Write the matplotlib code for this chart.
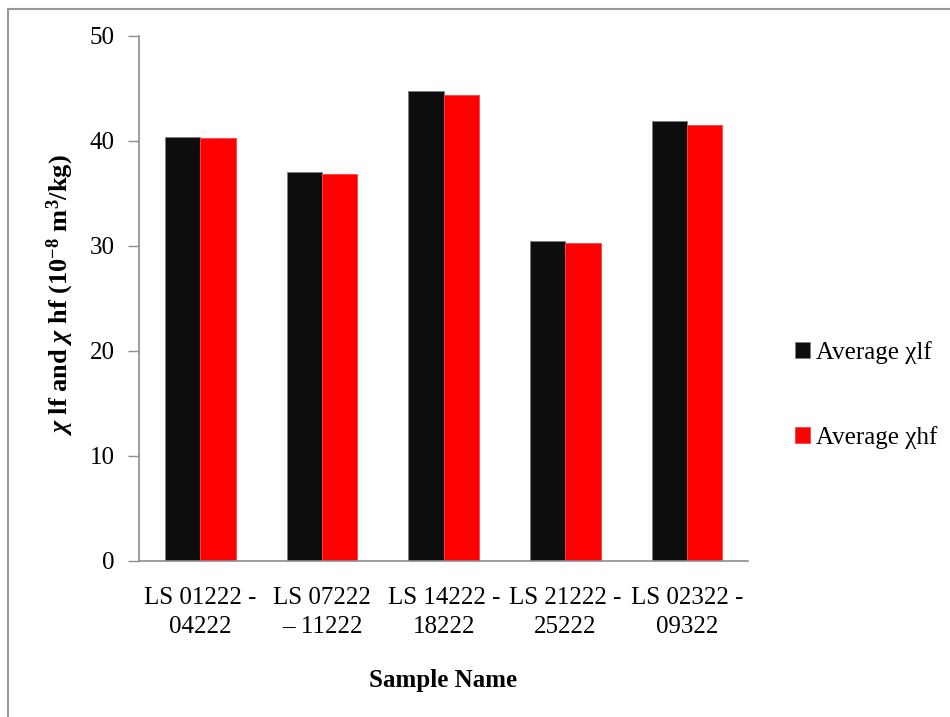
import numpy as np
import matplotlib
matplotlib.use("Agg")
import matplotlib.pyplot as plt
from matplotlib.lines import Line2D

# values
samples = ["LS 01222 -\n04222", "LS 07222\n\u2013 11222", "LS 14222 -\n18222",
           "LS 21222 -\n25222", "LS 02322 -\n09322"]
chi_lf = [40.4, 37.0, 44.7, 30.5, 41.9]
chi_hf = [40.3, 36.8, 44.4, 30.3, 41.5]
y_ticks = [0, 10, 20, 30, 40, 50]

plt.rcParams['font.family'] = 'Liberation Serif'
plt.rcParams['mathtext.fontset'] = 'custom'
plt.rcParams['mathtext.rm'] = 'Liberation Serif:bold'
plt.rcParams['mathtext.it'] = 'Liberation Serif:italic:bold'
plt.rcParams['mathtext.bf'] = 'Liberation Serif:bold'

fig = plt.figure(figsize=(9.5, 7.17), dpi=100)
ax = fig.add_axes([0.1468, 0.2176, 0.6406, 0.7326])

x = np.arange(len(samples))
w = 0.29
ax.bar(x - w / 2, chi_lf, w, color='#0d0d0d', edgecolor='#7f7f7f', linewidth=0.6,
       label='Average \u03c7lf')
ax.bar(x + w / 2, chi_hf, w, color='#ff0000', edgecolor='#ff4040', linewidth=0.6,
       label='Average \u03c7hf')

ax.set_xlim(-0.5, len(samples) - 0.5)
ax.set_ylim(0, 50)
ax.set_yticks(y_ticks)
ax.set_xticks(x)
ax.set_xticklabels(samples, fontsize=18, linespacing=1.4)
ax.tick_params(axis='y', labelsize=18, length=8, width=1, color='#8c8c8c', pad=10)
ax.tick_params(axis='x', length=0, pad=19)

for s in ['top', 'right']:
    ax.spines[s].set_visible(False)
for s in ['left', 'bottom']:
    ax.spines[s].set_color('#8c8c8c')
    ax.spines[s].set_linewidth(1.2)

fig.text(60 / 950, 1 - 295 / 717, r"$\chi$ lf and $\chi$ hf (10$^{-8}$ m$^{3}$/kg)",
         rotation=90, ha='center', va='center', fontsize=19, fontweight='bold')
fig.text(443 / 950, 1 - 680 / 717, "Sample Name", ha='center', va='center',
         fontsize=18, fontweight='bold')

leg = fig.legend(loc='center left', bbox_to_anchor=(772 / 950, 1 - 395 / 717),
                 frameon=False, fontsize=18, handlelength=0.6, handleheight=0.6,
                 handletextpad=0.25, labelspacing=2.5)

# chart border like the spreadsheet frame
fig.add_artist(Line2D([8 / 950, 8 / 950], [0, 1 - 9 / 717], transform=fig.transFigure,
                      color='#9a9a9a', linewidth=1.5))
fig.add_artist(Line2D([8 / 950, 1], [1 - 9 / 717, 1 - 9 / 717], transform=fig.transFigure,
                      color='#9a9a9a', linewidth=1.5))

fig.savefig("out.png", dpi=100)
